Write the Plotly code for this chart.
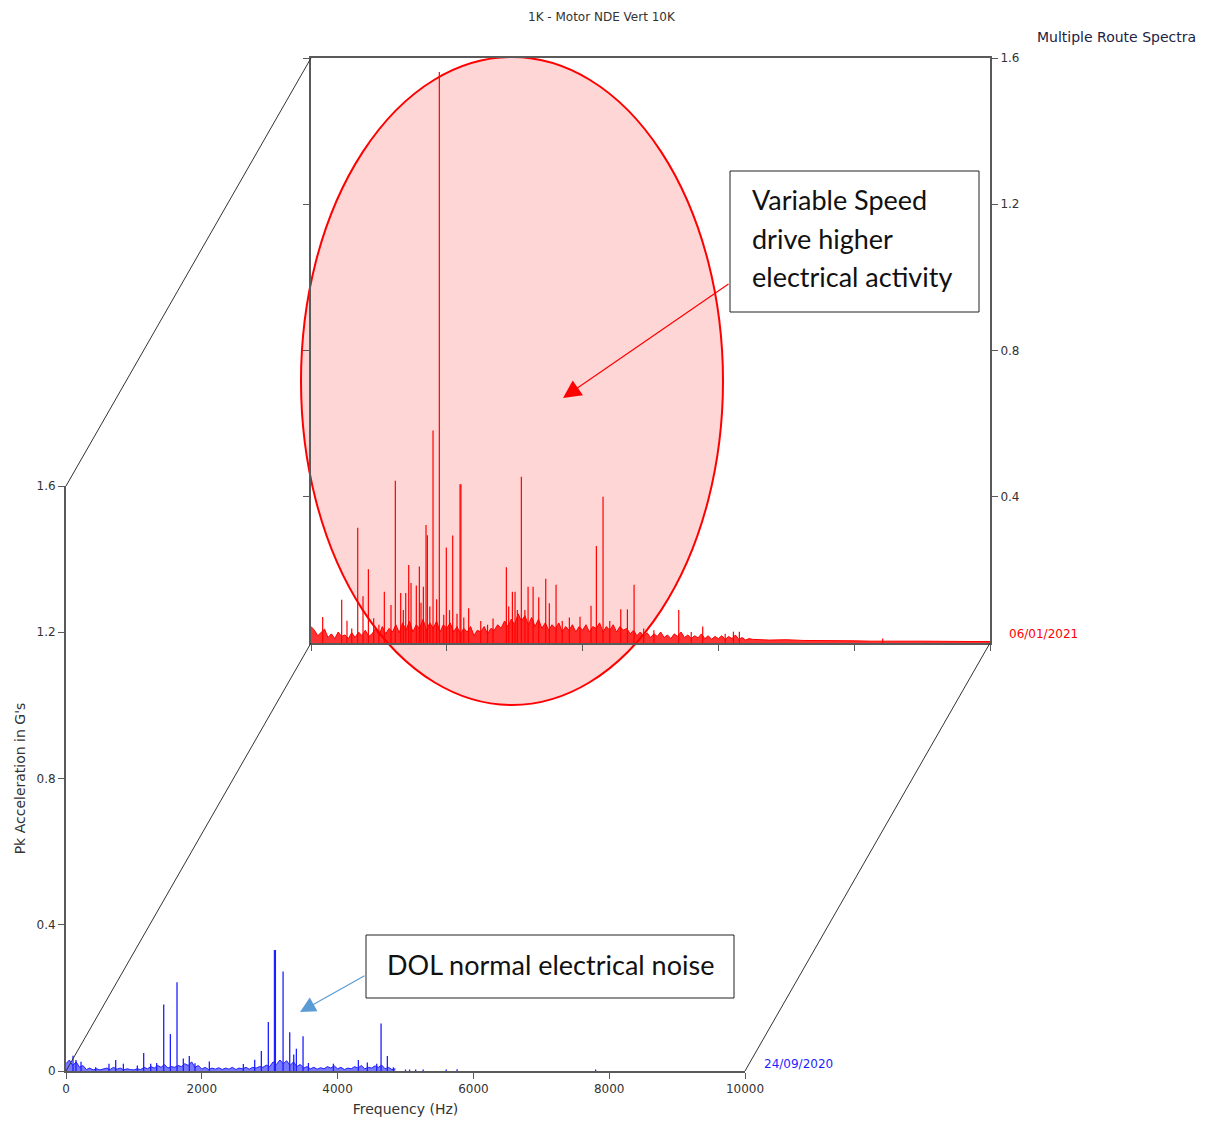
import plotly.graph_objects as go

# ---------------- data ----------------
FREQ_TICKS = [0, 2000, 4000, 6000, 8000, 10000]
AMP_TICKS = [0, 0.4, 0.8, 1.2, 1.6]
AMP_TICKS_BACK = [0.4, 0.8, 1.2, 1.6]

DATE_FRONT = "24/09/2020"
DATE_BACK = "06/01/2021"

# 24/09/2020 (DOL) - discrete peaks
blue_peak_freq = [103, 147, 221, 437, 633, 732, 845, 1051, 1144, 1247, 1335, 1439, 1537, 1635,
                  1728, 1816, 1900, 2111, 2612, 2779, 2877, 2980, 3070, 3084, 3197, 3295, 3354,
                  3393, 3491, 3570, 3938, 4306, 4438, 4576, 4640, 4733, 4822,
                  5000, 5060, 5150, 5260, 5600, 5760, 7800]
blue_peak_amp = [0.042, 0.030, 0.025, 0.010, 0.020, 0.030, 0.020, 0.015, 0.049, 0.020, 0.022, 0.182, 0.101, 0.243,
                 0.034, 0.041, 0.021, 0.026, 0.019, 0.031, 0.055, 0.134, 0.331, 0.331, 0.272, 0.106, 0.045,
                 0.061, 0.095, 0.022, 0.020, 0.030, 0.023, 0.020, 0.130, 0.041, 0.010,
                 0.004, 0.004, 0.004, 0.004, 0.004, 0.005, 0.004]
# 24/09/2020 noise floor, 50 Hz bins 0..4850 Hz
blue_noise = [0.020, 0.030, 0.015, 0.025, 0.010, 0.015, 0.004, 0.008, 0.003, 0.006,
              0.003, 0.005, 0.008, 0.004, 0.010, 0.005, 0.008, 0.003, 0.006, 0.004,
              0.003, 0.006, 0.004, 0.010, 0.006, 0.012, 0.008, 0.015, 0.010, 0.018,
              0.008, 0.012, 0.010, 0.015, 0.012, 0.020, 0.015, 0.025, 0.010, 0.015,
              0.005, 0.010, 0.004, 0.008, 0.005, 0.009, 0.004, 0.008, 0.005, 0.010,
              0.004, 0.008, 0.006, 0.010, 0.005, 0.010, 0.008, 0.012, 0.010, 0.016,
              0.012, 0.025, 0.018, 0.030, 0.020, 0.028, 0.015, 0.025, 0.012, 0.018,
              0.008, 0.012, 0.006, 0.010, 0.005, 0.009, 0.006, 0.012, 0.008, 0.014,
              0.006, 0.010, 0.004, 0.008, 0.006, 0.012, 0.008, 0.015, 0.006, 0.010,
              0.008, 0.014, 0.010, 0.016, 0.006, 0.010, 0.004, 0.006]
blue_noise_freq = list(range(0, 4900, 50))

# 06/01/2021 (VSD) - discrete peaks
red_peak_freq = [172, 452, 530, 600, 688, 766, 845, 923, 1000, 1080, 1178, 1242, 1321, 1360, 1395, 1439,
                 1473, 1551, 1596, 1620, 1655, 1694, 1714, 1750, 1797, 1850, 1890, 1955, 1993, 2040,
                 2087, 2150, 2195, 2208, 2250, 2322, 2500, 2600, 2681, 2877, 2912, 2966, 3005, 3039,
                 3098, 3150, 3197, 3271, 3354, 3457, 3510, 3609, 3700, 3805, 3962, 4124, 4203, 4301,
                 4400, 4562, 4660, 4758, 4900, 5050, 5416, 5600, 5769, 6100, 6221, 6309, 8420]
red_peak_amp = [0.071, 0.118, 0.061, 0.040, 0.315, 0.128, 0.202, 0.068, 0.050, 0.140, 0.104, 0.444, 0.137, 0.090,
                0.137, 0.213, 0.164, 0.157, 0.209, 0.110, 0.154, 0.323, 0.295, 0.100, 0.581, 0.120, 1.562,
                0.077, 0.261, 0.090, 0.294, 0.080, 0.434, 0.434, 0.070, 0.095, 0.060, 0.050, 0.067,
                0.207, 0.100, 0.140, 0.140, 0.090, 0.455, 0.090, 0.154, 0.154, 0.125, 0.176, 0.109,
                0.159, 0.060, 0.070, 0.072, 0.102, 0.265, 0.400, 0.060, 0.092, 0.092, 0.159, 0.040,
                0.035, 0.090, 0.030, 0.045, 0.025, 0.031, 0.031, 0.012]
# 06/01/2021 noise floor: 50 Hz bins 0..6450 Hz, then 250 Hz bins 6500..10000 Hz
red_noise = [0.045, 0.035, 0.020, 0.030, 0.038, 0.015, 0.025, 0.012, 0.030, 0.018,
             0.022, 0.012, 0.028, 0.015, 0.030, 0.020, 0.035, 0.018, 0.025, 0.040,
             0.020, 0.045, 0.025, 0.040, 0.030, 0.050, 0.028, 0.055, 0.035, 0.060,
             0.030, 0.050, 0.040, 0.065, 0.035, 0.055, 0.040, 0.060, 0.030, 0.050,
             0.040, 0.055, 0.030, 0.045, 0.025, 0.040, 0.030, 0.045, 0.020, 0.035,
             0.030, 0.045, 0.025, 0.040, 0.035, 0.050, 0.040, 0.060, 0.045, 0.065,
             0.050, 0.080, 0.060, 0.075, 0.050, 0.070, 0.045, 0.065, 0.040, 0.055,
             0.035, 0.050, 0.040, 0.055, 0.030, 0.045, 0.035, 0.050, 0.030, 0.045,
             0.035, 0.050, 0.030, 0.045, 0.040, 0.055, 0.030, 0.045, 0.035, 0.050,
             0.030, 0.045, 0.035, 0.040, 0.025, 0.035, 0.020, 0.030, 0.018, 0.028,
             0.015, 0.025, 0.018, 0.030, 0.015, 0.022, 0.012, 0.025, 0.018, 0.030,
             0.015, 0.022, 0.012, 0.020, 0.014, 0.025, 0.012, 0.020, 0.010, 0.018,
             0.012, 0.020, 0.010, 0.018, 0.012, 0.022, 0.010, 0.015, 0.008, 0.012,
             0.010, 0.008, 0.009, 0.007, 0.006, 0.007, 0.006, 0.005, 0.006, 0.005,
             0.005, 0.004, 0.005, 0.004, 0.004]
red_noise_freq = list(range(0, 6500, 50)) + list(range(6500, 10001, 250))

# ---------------- layout geometry ----------------
W, H = 1210, 1122


def px(xp):
    return xp / W


def py(yp):
    return (H - yp) / H


FRONT_X = [px(66), px(745)]
FRONT_Y = [py(1071), py(486)]
BACK_X = [px(311), px(990)]
BACK_Y = [py(643), py(58)]


def stems(freqs, amps):
    xs, ys = [], []
    for f, a in zip(freqs, amps):
        xs += [f, f, None]
        ys += [0, a, None]
    return xs, ys


BLUE = "#1f1fff"
RED = "#ff0000"
AXC = "#5a5a5a"
TXT = "#333333"
FONT_S = "DejaVu Sans"
FONT_BOX = "Lato"

fig = go.Figure()

# front spectrum (blue)
fig.add_trace(go.Scatter(x=blue_noise_freq, y=blue_noise, mode="lines",
                         line=dict(color=BLUE, width=1), fill="tozeroy",
                         fillcolor="rgba(31,31,255,0.6)", xaxis="x", yaxis="y",
                         showlegend=False, hoverinfo="skip"))
bx, by = stems(blue_peak_freq, blue_peak_amp)
fig.add_trace(go.Scatter(x=bx, y=by, mode="lines", line=dict(color=BLUE, width=1.3),
                         xaxis="x", yaxis="y", showlegend=False, name=DATE_FRONT))

# back spectrum (red)
fig.add_trace(go.Scatter(x=red_noise_freq, y=red_noise, mode="lines",
                         line=dict(color=RED, width=1), fill="tozeroy",
                         fillcolor="rgba(255,0,0,0.8)", xaxis="x2", yaxis="y2",
                         showlegend=False, hoverinfo="skip"))
rx, ry = stems(red_peak_freq, red_peak_amp)
fig.add_trace(go.Scatter(x=rx, y=ry, mode="lines", line=dict(color=RED, width=1.2),
                         xaxis="x2", yaxis="y2", showlegend=False, name=DATE_BACK))

tickfont = dict(family=FONT_S, size=12, color=TXT)

fig.update_layout(
    width=W, height=H,
    margin=dict(l=0, r=0, t=0, b=0),
    paper_bgcolor="white", plot_bgcolor="rgba(0,0,0,0)",
    xaxis=dict(domain=FRONT_X, range=[0, 10000], anchor="y", tickvals=FREQ_TICKS,
               ticktext=[str(v) for v in FREQ_TICKS], ticks="outside", ticklen=6,
               tickcolor=AXC, showline=True, linecolor=AXC, linewidth=2,
               showgrid=False, zeroline=False, tickfont=tickfont, automargin=False,
               title=dict(text="Frequency (Hz)", font=dict(family=FONT_S, size=14, color=TXT),
                          standoff=9)),
    yaxis=dict(domain=FRONT_Y, range=[0, 1.6], anchor="x", tickvals=AMP_TICKS,
               ticktext=["0", "0.4", "0.8", "1.2", "1.6"], ticks="outside", ticklen=6,
               tickcolor=AXC, showline=True, linecolor=AXC, linewidth=2,
               showgrid=False, zeroline=False, tickfont=tickfont, automargin=False,
               title=dict(text="Pk Acceleration in G's", font=dict(family=FONT_S, size=14, color=TXT),
                          standoff=8)),
    xaxis2=dict(domain=BACK_X, range=[0, 10000], anchor="y2", tickvals=FREQ_TICKS,
                showticklabels=False, ticks="outside", ticklen=6, tickcolor=AXC,
                showline=True, linecolor=AXC, linewidth=2, mirror=True,
                showgrid=False, zeroline=False, automargin=False),
    yaxis2=dict(domain=BACK_Y, range=[0, 1.6], anchor="x2", side="right",
                tickvals=AMP_TICKS_BACK, ticktext=["0.4", "0.8", "1.2", "1.6"],
                ticks="outside", ticklen=6, tickcolor=AXC, showline=True, linecolor=AXC,
                linewidth=2, mirror="ticks", showgrid=False, zeroline=False,
                tickfont=tickfont, automargin=False),
)

# pseudo-3D box connecting the two spectra planes
diag = dict(color="#333333", width=1)
fig.add_shape(type="line", xref="paper", yref="paper", x0=FRONT_X[0], y0=FRONT_Y[1],
              x1=BACK_X[0], y1=BACK_Y[1], line=diag)
fig.add_shape(type="line", xref="paper", yref="paper", x0=FRONT_X[0], y0=FRONT_Y[0],
              x1=BACK_X[0], y1=BACK_Y[0], line=diag)
fig.add_shape(type="line", xref="paper", yref="paper", x0=FRONT_X[1], y0=FRONT_Y[0],
              x1=BACK_X[1], y1=BACK_Y[0], line=diag)

# highlight ellipse
fig.add_shape(type="circle", xref="paper", yref="paper", x0=px(301), x1=px(723),
              y0=py(705), y1=py(57), fillcolor="rgba(255,0,0,0.16)",
              line=dict(color=RED, width=2), layer="below")

# annotation boxes
fig.add_shape(type="rect", xref="paper", yref="paper", x0=px(730), x1=px(979),
              y0=py(312), y1=py(171), line=dict(color="#222222", width=1),
              fillcolor="white")
fig.add_shape(type="rect", xref="paper", yref="paper", x0=px(366), x1=px(734),
              y0=py(998), y1=py(935), line=dict(color="#222222", width=1),
              fillcolor="white")

boxfont = dict(family=FONT_BOX, size=27, color="#111111")
for txt, yc in [("Variable Speed", 200), ("drive higher", 238), ("electrical activity", 277)]:
    fig.add_annotation(text=txt, xref="paper", yref="paper", x=px(750), y=py(yc),
                       xanchor="left", yanchor="middle", showarrow=False, font=boxfont)
fig.add_annotation(text="DOL normal electrical noise", xref="paper", yref="paper",
                   x=px(550), y=py(964), xanchor="center", yanchor="middle",
                   showarrow=False, font=boxfont)

# arrows
fig.add_annotation(text="", xref="paper", yref="paper", x=px(563), y=py(398),
                   ax=730 - 563, ay=283 - 398, showarrow=True, arrowhead=2,
                   arrowsize=3, arrowwidth=1.2, arrowcolor=RED)
fig.add_annotation(text="", xref="paper", yref="paper", x=px(300), y=py(1012),
                   ax=366 - 300, ay=975 - 1012, showarrow=True, arrowhead=2,
                   arrowsize=2.6, arrowwidth=1.2, arrowcolor="#5B9BD5")

# titles and date labels
fig.add_annotation(text="1K - Motor NDE Vert 10K", xref="paper", yref="paper",
                   x=px(602), y=py(17), xanchor="center", yanchor="middle",
                   showarrow=False, font=dict(family=FONT_S, size=12, color=TXT))
fig.add_annotation(text="Multiple Route Spectra", xref="paper", yref="paper",
                   x=px(1198), y=py(37), xanchor="right", yanchor="middle",
                   showarrow=False, font=dict(family=FONT_S, size=14, color="#222244"))
fig.add_annotation(text=DATE_BACK, xref="paper", yref="paper", x=px(1007), y=py(634),
                   xanchor="left", yanchor="middle", showarrow=False,
                   font=dict(family=FONT_S, size=12, color=RED))
fig.add_annotation(text=DATE_FRONT, xref="paper", yref="paper", x=px(762), y=py(1064),
                   xanchor="left", yanchor="middle", showarrow=False,
                   font=dict(family=FONT_S, size=12, color=BLUE))

fig.write_html("out.html", config={"displayModeBar": False},
               post_script="document.body.style.margin='0px';document.body.style.overflow='hidden';")
